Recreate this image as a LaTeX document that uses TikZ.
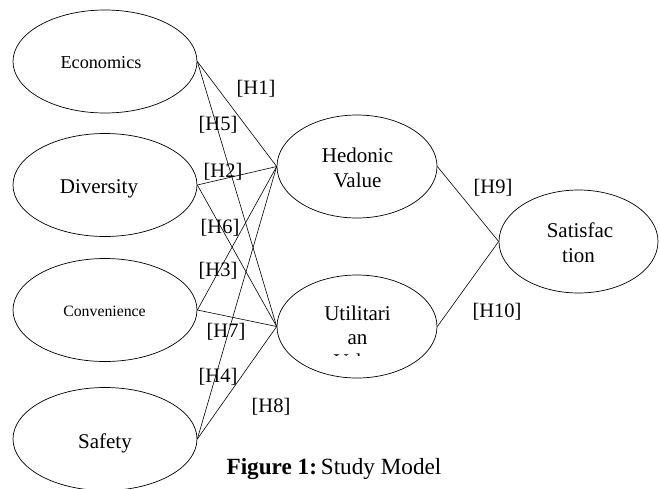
\documentclass[tikz,border=0pt]{standalone}
\usepackage{fontspec}
\setmainfont{Liberation Serif}
\usetikzlibrary{shapes.geometric}
\tikzset{
  oval/.style={draw, ellipse, line width=0.7pt, inner sep=0pt},
  bigoval/.style={oval, minimum width=184pt, minimum height=103pt},
  midoval/.style={oval, minimum width=160pt, minimum height=103pt},
  link/.style={draw, line width=0.6pt},
  txt/.style={anchor=base, inner sep=0pt, font=\fontsize{21}{25}\selectfont},
  hyp/.style={inner sep=0pt, font=\fontsize{20.5}{24}\selectfont},
}
\begin{document}
\begin{tikzpicture}[x=1pt,y=-1pt]
\useasboundingbox (0,0) rectangle (660,488);
% constructs
\node[bigoval] (eco) at (105,61.5) {};
\node[bigoval] (div) at (105,185) {};
\node[bigoval] (con) at (105,310) {};
\node[bigoval] (saf) at (105,439) {};
\node[midoval] (hed) at (357,166.5) {};
\node[midoval] (uti) at (357,326.5) {};
\node[midoval, minimum width=159pt] (sat) at (578.5,241.5) {};
% texts
\node[txt, font=\fontsize{18.2}{22}\selectfont] (ecot) at (101,68) {Economics};
\node[txt] (divt) at (99,193) {Diversity};
\node[txt, font=\fontsize{15.8}{19}\selectfont] (cont) at (104.5,316) {Convenience};
\node[txt] (saft) at (105,448) {Safety};
\node[txt] (hedt1) at (357.5,162) {Hedonic};
\node[txt] (hedt2) at (357.5,187) {Value};
\node[txt] (satt1) at (580,237) {Satisfac};
\node[txt] (satt2) at (578.5,262) {tion};
\node[txt] (utit1) at (357.5,320) {Utilitari};
\node[txt] (utit2) at (357.5,344) {an};
\begin{scope}
\clip (300,352) rectangle (420,355.6);
\node[txt] (utit3) at (357.5,368.5) {Value};
\end{scope}
% paths
\draw[link] (eco.east) -- (hed.west);
\draw[link] (eco.east) -- (uti.west);
\draw[link] (div.east) -- (hed.west);
\draw[link] (div.east) -- (uti.west);
\draw[link] (con.east) -- (hed.west);
\draw[link] (con.east) -- (uti.west);
\draw[link] (saf.east) -- (hed.west);
\draw[link] (saf.east) -- (uti.west);
\draw[link] (hed.east) -- (sat.west);
\draw[link] (uti.east) -- (sat.west);
% hypothesis labels
\node[hyp] (h1) at (256,89) {[H1]};
\node[hyp] (h5) at (218,125) {[H5]};
\node[hyp] (h2) at (223,172) {[H2]};
\node[hyp] (h6) at (220,228) {[H6]};
\node[hyp] (h3) at (218,271) {[H3]};
\node[hyp] (h7) at (226,332) {[H7]};
\node[hyp] (h4) at (218,377) {[H4]};
\node[hyp] (h8) at (271,407) {[H8]};
\node[hyp] (h9) at (493,188) {[H9]};
\node[hyp] (h10) at (497,312) {[H10]};
% caption
\node[anchor=base, inner sep=0pt, font=\fontsize{23.2}{28}\selectfont] (cap) at (334,474) {\textbf{Figure 1:}\,Study Model};
\end{tikzpicture}
\end{document}
